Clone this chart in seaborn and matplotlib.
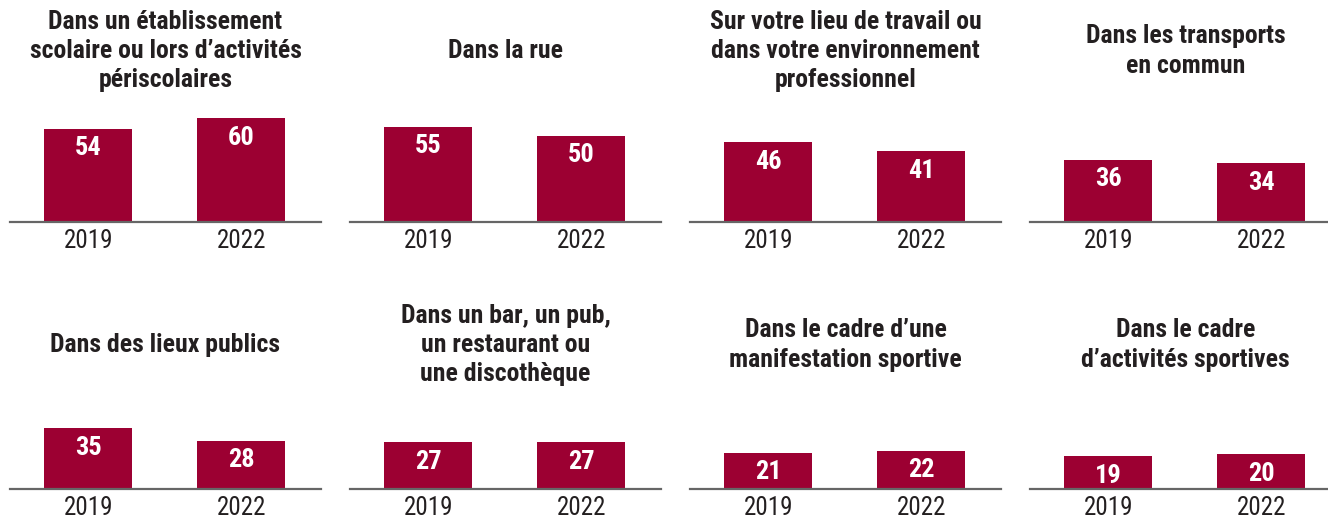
import matplotlib
matplotlib.use("Agg")
import matplotlib.pyplot as plt
import seaborn as sns
import pandas as pd

# Lieux où les faits ont été subis, pourcentages 2019 vs 2022
annees = ["2019", "2022"]
titres = [
    "Dans un établissement\nscolaire ou lors d’activités\npériscolaires",
    "Dans la rue",
    "Sur votre lieu de travail ou\ndans votre environnement\nprofessionnel",
    "Dans les transports\nen commun",
    "Dans des lieux publics",
    "Dans un bar, un pub,\nun restaurant ou\nune discothèque",
    "Dans le cadre d’une\nmanifestation sportive",
    "Dans le cadre\nd’activités sportives",
]
valeurs_2019 = [54, 55, 46, 36, 35, 27, 21, 19]
valeurs_2022 = [60, 50, 41, 34, 28, 27, 22, 20]

BAR = "#9C0032"
TEXT = "#231F20"
AXIS = "#666666"

sns.set_style("white")
plt.rcParams["font.family"] = ["Roboto Condensed", "Liberation Sans Narrow",
                               "Roboto", "DejaVu Sans"]

W, H = 1328, 521
fig = plt.figure(figsize=(W / 100, H / 100), dpi=100)

px_per_unit = 1.73
ymax = 65
ax_h = ymax * px_per_unit

for i, titre in enumerate(titres):
    row, col = divmod(i, 4)
    x0 = 10 + 340 * col
    base_y = 222 if row == 0 else 489
    title_y = 51 if row == 0 else 345

    ax = fig.add_axes([x0 / W, 1 - base_y / H, 311 / W, ax_h / H])
    df = pd.DataFrame({"annee": annees,
                       "valeur": [valeurs_2019[i], valeurs_2022[i]]})
    sns.barplot(data=df, x="annee", y="valeur", ax=ax, color=BAR,
                width=0.575, saturation=1, linewidth=0)
    ax.set_xlim(-0.51, 1.52)
    ax.set_ylim(0, ymax)
    ax.set_xlabel("")
    ax.set_ylabel("")
    ax.set_yticks([])
    for s in ("top", "right", "left"):
        ax.spines[s].set_visible(False)
    ax.spines["bottom"].set_color(AXIS)
    ax.spines["bottom"].set_linewidth(1.6)
    ax.tick_params(axis="x", length=0, pad=5, labelsize=18, labelcolor=TEXT)

    for xpos, v in enumerate(df["valeur"]):
        ax.annotate(str(v), (xpos, v), xytext=(0, -14),
                    textcoords="offset points", ha="center", va="center",
                    color="white", fontsize=19, fontweight="bold")

    fig.text((x0 + 155.5) / W, 1 - title_y / H, titre, ha="center",
             va="center", fontsize=18.5, fontweight="bold", color=TEXT,
             linespacing=1.28)

fig.savefig("out.png", dpi=100)
